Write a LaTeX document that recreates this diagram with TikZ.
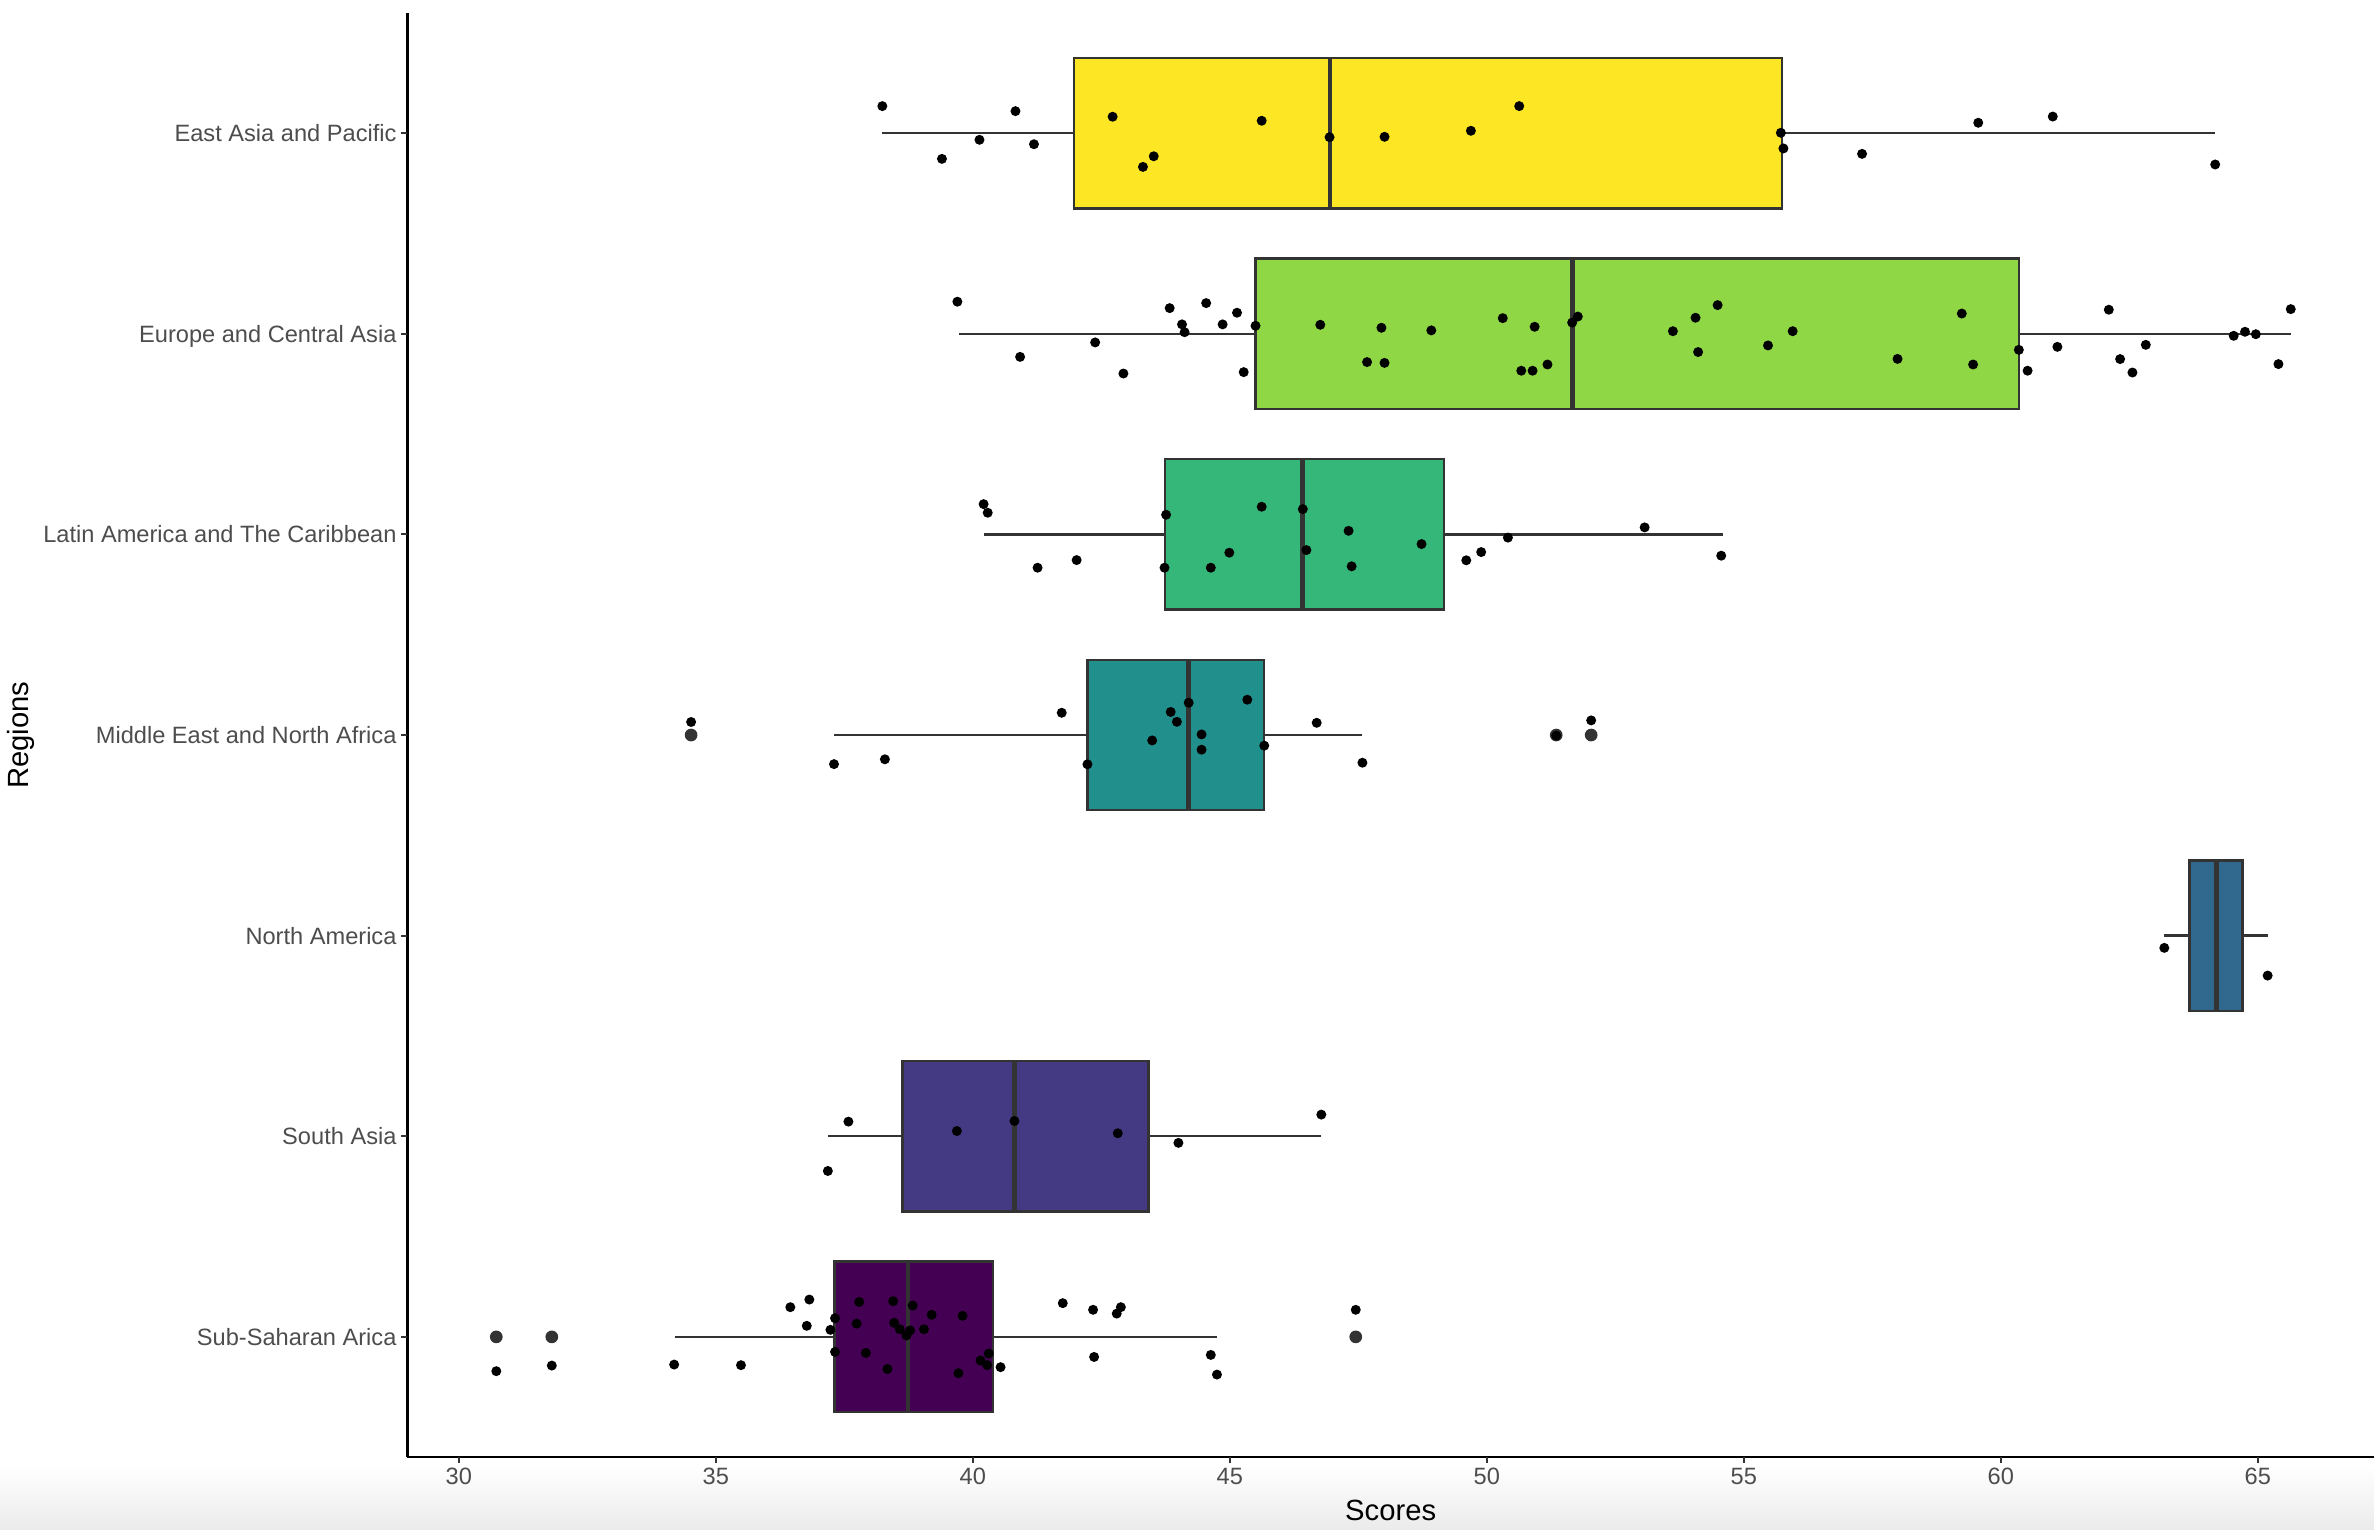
\documentclass[tikz,border=0pt]{standalone}
\usepackage{fontspec}
\setmainfont{Liberation Sans}
\usepackage{tikz}
\usetikzlibrary{calc}
\definecolor{grey20}{HTML}{333333}
\definecolor{grey30}{HTML}{4D4D4D}
\definecolor{vir1}{HTML}{440154}
\definecolor{vir2}{HTML}{443A83}
\definecolor{vir3}{HTML}{31688E}
\definecolor{vir4}{HTML}{21908C}
\definecolor{vir5}{HTML}{35B779}
\definecolor{vir6}{HTML}{8FD744}
\definecolor{vir7}{HTML}{FDE725}
\tikzstyle{ylab} = [anchor=east, inner sep=0pt, xshift=-7pt, color=grey30, text height=11.1pt, text depth=0pt]
\tikzstyle{xlab} = [anchor=north, inner sep=0pt, yshift=-7pt, color=grey30, text height=11.1pt, text depth=0pt]
\tikzstyle{axtitle} = [inner sep=0pt, color=black, font={\fontsize{19.3}{23}\selectfont}]
\tikzstyle{boxline} = [draw=grey20, line width=1.6pt]
\tikzstyle{whisker} = [draw=grey20, line width=1.6pt]
\tikzstyle{median} = [draw=grey20, line width=3.2pt]
\tikzstyle{jit} = [fill=black]
\tikzstyle{outl} = [fill=grey20]
\tikzset{font={\fontsize{15.6}{18}\selectfont}}

\begin{document}
\begin{tikzpicture}[x=33.95pt, y=132.5pt]
  \useasboundingbox (21.075,0.0377) rectangle (67.26,7.664);
  \shade[top color=white, bottom color=black!8] (21.075,0.0377) rectangle (67.26,0.358);

  % East Asia and Pacific
  \begin{scope}[shift={(0,7)}]
    \draw[whisker] (38.24,0) -- (41.97,0);
    \draw[whisker] (55.74,0) -- (64.17,0);
    \filldraw[boxline, fill=vir7] (41.97,-.375) rectangle (55.74,.375);
    \draw[median] (46.95,-.375) -- (46.95,.375);
    \foreach \v/\d in {38.24/.135, 40.83/.110, 42.72/.082, 45.62/.062, 40.13/-.033, 41.19/-.055,
      39.40/-.128, 43.52/-.115, 43.31/-.168, 46.94/-.020, 48.01/-.018, 49.69/.012, 50.63/.135,
      55.72/.002, 55.77/-.076, 57.30/-.103, 59.56/.052, 61.01/.083, 64.17/-.156}
      \fill[jit] (\v,\d) circle (3.3pt);
  \end{scope}

  % Europe and Central Asia
  \begin{scope}[shift={(0,6)}]
    \draw[whisker] (39.74,0) -- (45.50,0);
    \draw[whisker] (60.35,0) -- (65.64,0);
    \filldraw[boxline, fill=vir6] (45.50,-.375) rectangle (60.35,.375);
    \draw[median] (51.66,-.375) -- (51.66,.375);
    \foreach \v/\d in {39.70/.160, 43.83/.128, 44.54/.153, 45.14/.105, 44.07/.047, 44.12/.008,
      44.86/.047, 45.50/.040, 42.38/-.043, 40.92/-.115, 42.93/-.198, 45.27/-.191, 46.76/.045,
      47.95/.030, 48.92/.017, 47.67/-.141, 48.01/-.145, 50.31/.078, 50.93/.035, 50.67/-.184,
      50.89/-.184, 51.18/-.153, 51.66/.056, 51.77/.086, 54.49/.143, 54.06/.080, 53.62/.013,
      55.95/.013, 55.47/-.058, 54.11/-.091, 57.99/-.125, 59.24/.101, 59.46/-.153, 60.35/-.080,
      60.52/-.184, 61.10/-.065, 62.10/.120, 62.32/-.126, 62.82/-.055, 62.56/-.193, 64.53/-.010,
      64.75/.010, 64.96/-.002, 65.64/.123, 65.40/-.151}
      \fill[jit] (\v,\d) circle (3.3pt);
  \end{scope}

  % Latin America and The Caribbean
  \begin{scope}[shift={(0,5)}]
    \draw[whisker] (40.22,0) -- (43.74,0);
    \draw[whisker] (49.17,0) -- (54.59,0);
    \filldraw[boxline, fill=vir5] (43.74,-.375) rectangle (49.17,.375);
    \draw[median] (46.42,-.375) -- (46.42,.375);
    \foreach \v/\d in {40.21/.151, 40.29/.108, 41.26/-.166, 42.02/-.128, 43.76/.098, 43.73/-.166,
      44.63/-.166, 44.99/-.091, 45.62/.138, 46.42/.126, 46.49/-.078, 47.31/.018, 47.37/-.159,
      48.73/-.048, 49.60/-.129, 49.89/-.088, 50.41/-.016, 53.07/.035, 54.56/-.106}
      \fill[jit] (\v,\d) circle (3.3pt);
  \end{scope}

  % Middle East and North Africa
  \begin{scope}[shift={(0,4)}]
    \draw[whisker] (37.30,0) -- (42.23,0);
    \draw[whisker] (45.67,0) -- (47.57,0);
    \filldraw[boxline, fill=vir4] (42.23,-.375) rectangle (45.67,.375);
    \draw[median] (44.20,-.375) -- (44.20,.375);
    \foreach \v in {34.52, 51.35, 52.03}
      \fill[outl] (\v,0) circle (4.2pt);
    \foreach \v/\d in {34.52/.065, 37.30/-.145, 38.29/-.121, 41.73/.111, 42.23/-.146, 43.49/-.027,
      43.85/.115, 43.97/.066, 44.20/.161, 44.45/.003, 44.45/-.073, 45.34/.176, 45.67/-.053,
      46.69/.061, 47.58/-.138, 51.35/-.003, 52.03/.073}
      \fill[jit] (\v,\d) circle (3.3pt);
  \end{scope}

  % North America
  \begin{scope}[shift={(0,3)}]
    \draw[whisker] (63.18,0) -- (63.67,0);
    \draw[whisker] (64.70,0) -- (65.19,0);
    \filldraw[boxline, fill=vir3] (63.67,-.375) rectangle (64.70,.375);
    \draw[median] (64.19,-.375) -- (64.19,.375);
    \foreach \v/\d in {63.18/-.061, 65.19/-.199}
      \fill[jit] (\v,\d) circle (3.3pt);
  \end{scope}

  % South Asia
  \begin{scope}[shift={(0,2)}]
    \draw[whisker] (37.18,0) -- (38.63,0);
    \draw[whisker] (43.42,0) -- (46.78,0);
    \filldraw[boxline, fill=vir2] (38.63,-.375) rectangle (43.42,.375);
    \draw[median] (40.81,-.375) -- (40.81,.375);
    \foreach \v/\d in {37.58/.073, 37.18/-.173, 39.69/.026, 40.81/.076, 42.82/.015, 44.00/-.033,
      46.78/.108}
      \fill[jit] (\v,\d) circle (3.3pt);
  \end{scope}

  % Sub-Saharan Arica
  \begin{scope}[shift={(0,1)}]
    \draw[whisker] (34.20,0) -- (37.31,0);
    \draw[whisker] (40.39,0) -- (44.75,0);
    \filldraw[boxline, fill=vir1] (37.31,-.375) rectangle (40.39,.375);
    \draw[median] (38.74,-.375) -- (38.74,.375);
    \foreach \v in {30.73, 31.81, 47.45}
      \fill[outl] (\v,0) circle (4.2pt);
    \foreach \v/\d in {30.73/-.171, 31.81/-.143, 34.19/-.138, 35.49/-.141, 36.45/.148, 36.82/.186,
      36.77/.055, 37.23/.035, 37.32/.093, 37.32/-.075, 37.79/.174, 37.74/.066, 37.92/-.080,
      38.34/-.160, 38.45/.178, 38.47/.070, 38.58/.038, 38.71/.007, 38.78/.032, 38.83/.156,
      39.05/.038, 39.20/.110, 39.72/-.181, 39.80/.105, 40.15/-.118, 40.28/-.141, 40.31/-.083,
      40.54/-.151, 41.75/.168, 42.34/.135, 42.36/-.100, 42.80/.116, 42.88/.148, 44.63/-.090,
      44.75/-.188, 47.45/.135}
      \fill[jit] (\v,\d) circle (3.3pt);
  \end{scope}

  % axes
  \draw[black, line width=1.5pt] (29,7.6) -- (29,0.4);
  \draw[black, line width=1.5pt] (29,0.4) -- (67.3,0.4);
  \foreach \k in {1,...,7}
    \draw[grey20, line width=1.4pt] (29,\k) -- ([xshift=-4pt]29,\k);
  \foreach \v in {30,35,...,65}
    \draw[grey20, line width=1.4pt] (\v,0.4) -- ([yshift=-4pt]\v,0.4);

  \node[at={(29,7)}, ylab] (eap) {East Asia and Pacific};
  \node[at={(29,6)}, ylab] (eca) {Europe and Central Asia};
  \node[at={(29,5)}, ylab] (lac) {Latin America and The Caribbean};
  \node[at={(29,4)}, ylab] (mena) {Middle East and North Africa};
  \node[at={(29,3)}, ylab] (na) {North America};
  \node[at={(29,2)}, ylab] (sa) {South Asia};
  \node[at={(29,1)}, ylab] (ssa) {Sub-Saharan Arica};

  \foreach \v in {30,35,...,65}
    \node[at={(\v,0.4)}, xlab] (s\v) {\v};

  \node[at={(48.13,0.0868)}, axtitle, anchor=base] (scores) {Scores};
  \node[at={(21.635,4)}, axtitle, anchor=base, rotate=90] (regions) {Regions};
\end{tikzpicture}
\end{document}
